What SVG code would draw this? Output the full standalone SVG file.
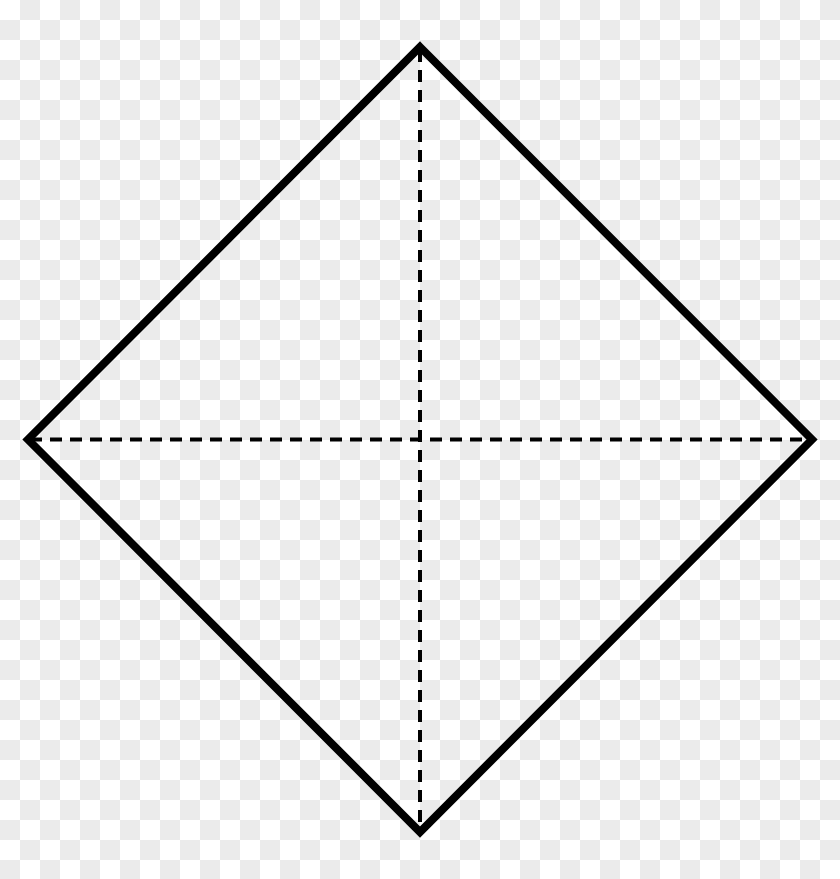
<svg xmlns="http://www.w3.org/2000/svg" width="840" height="879" viewBox="0 0 840 879">
  <defs>
    <pattern id="checker" x="0" y="0" width="40" height="40" patternUnits="userSpaceOnUse">
      <rect x="0" y="0" width="40" height="40" fill="#ffffff"/>
      <rect x="20" y="0" width="20" height="20" fill="#ebebeb"/>
      <rect x="0" y="20" width="20" height="20" fill="#ebebeb"/>
    </pattern>
    <style>
      .outline { fill: none; stroke: #000; stroke-width: 8; stroke-linejoin: miter; stroke-miterlimit: 10; }
      .dash { fill: none; stroke: #000; stroke-width: 4; stroke-dasharray: 12 8; }
    </style>
  </defs>
  <rect id="background" x="0" y="0" width="840" height="879" fill="url(#checker)"/>
  <g id="diagonals">
    <line class="dash" x1="420" y1="50" x2="420" y2="832"/>
    <line class="dash" x1="30" y1="439.5" x2="810" y2="439.5"/>
  </g>
  <g id="diamond">
    <polygon class="outline" points="420,47 812,439.5 420,832 28,439.5"/>
  </g>
</svg>
